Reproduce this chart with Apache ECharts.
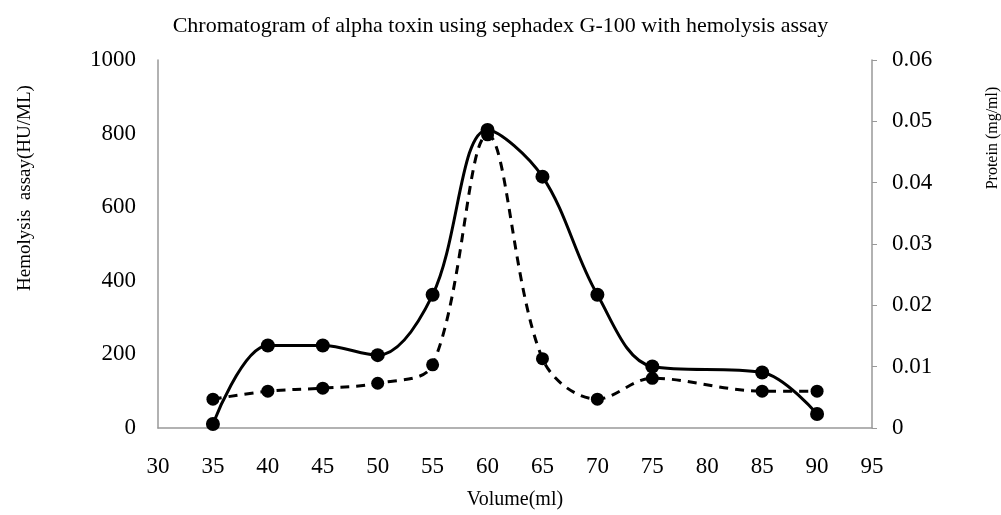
<!DOCTYPE html>
<html>
<head>
<meta charset="utf-8">
<script src="https://cdn.jsdelivr.net/npm/echarts@6/dist/echarts.min.js"></script>
<style>
  html, body { margin: 0; padding: 0; background: #fff; }
  #chart { width: 1001px; height: 515px; }
</style>
</head>
<body>
<div id="chart"></div>
<script>
  // volume fractions (ml)
  const volumes = [35, 40, 45, 50, 55, 60, 65, 70, 75, 85, 90]
  // hemolysis assay (HU/ML), left axis
  const hemolysis = [11, 224, 224, 198, 362, 810, 683, 362, 167, 151, 38]
  // protein (mg/ml), right axis
  const protein = [0.0047, 0.006, 0.0065, 0.0073, 0.0103, 0.0478, 0.0113, 0.0047, 0.0081, 0.006, 0.006]

  const font = '"Liberation Serif", "DejaVu Serif", serif'

  const chart = echarts.init(document.getElementById('chart'))

  const option = {
    backgroundColor: '#fff',
    animation: false,
    title: {
      text: 'Chromatogram of alpha toxin using sephadex G-100 with hemolysis assay',
      left: 'center',
      top: 10,
      textStyle: { fontFamily: font, fontSize: 22, fontWeight: 'normal', color: '#000' }
    },
    grid: { left: 158, right: 129, top: 60, bottom: 79 },
    xAxis: {
      type: 'value',
      min: 30,
      max: 95,
      interval: 5,
      name: 'Volume(ml)',
      nameLocation: 'middle',
      nameGap: 62,
      nameTextStyle: { fontFamily: font, fontSize: 20, color: '#000' },
      axisLine: { lineStyle: { color: '#999', width: 1.5 } },
      axisTick: { show: false },
      splitLine: { show: false },
      axisLabel: { fontFamily: font, fontSize: 23, color: '#000', margin: 27 }
    },
    yAxis: [
      {
        type: 'value',
        min: 0,
        max: 1000,
        interval: 200,
        axisLine: { show: true, lineStyle: { color: '#999', width: 1.5 } },
        axisTick: { show: false },
        splitLine: { show: false },
        axisLabel: {
          fontFamily: font, fontSize: 23, color: '#000', margin: 22,
          formatter: v => String(v)
        }
      },
      {
        type: 'value',
        min: 0,
        max: 0.06,
        interval: 0.01,
        position: 'right',
        axisLine: { show: true, lineStyle: { color: '#999', width: 1.5 } },
        axisTick: { show: true, length: 5, lineStyle: { color: '#999' } },
        splitLine: { show: false },
        axisLabel: {
          fontFamily: font, fontSize: 23, color: '#000', margin: 20,
          formatter: v => v === 0 ? '0' : v.toFixed(2)
        }
      }
    ],
    graphic: [
      {
        type: 'text',
        x: 25, y: 188,
        rotation: Math.PI / 2,
        style: {
          text: 'Hemolysis  assay(HU/ML)',
          font: '19px ' + font,
          fill: '#000',
          align: 'center',
          verticalAlign: 'middle'
        }
      },
      {
        type: 'text',
        x: 993, y: 138,
        rotation: Math.PI / 2,
        style: {
          text: 'Protein (mg/ml)',
          font: '16px ' + font,
          fill: '#000',
          align: 'center',
          verticalAlign: 'middle'
        }
      }
    ],
    series: [
      {
        name: 'Protein',
        type: 'line',
        yAxisIndex: 1,
        smooth: 0.35,
        data: volumes.map((v, i) => [v, protein[i]]),
        symbol: 'circle',
        symbolSize: 13,
        itemStyle: { color: '#000' },
        lineStyle: { color: '#000', width: 3, type: [9, 7] }
      },
      {
        name: 'Hemolysis',
        type: 'line',
        yAxisIndex: 0,
        smooth: 0.35,
        data: volumes.map((v, i) => [v, hemolysis[i]]),
        symbol: 'circle',
        symbolSize: 14,
        itemStyle: { color: '#000' },
        lineStyle: { color: '#000', width: 3 }
      }
    ]
  }

  chart.setOption(option)
</script>
</body>
</html>
